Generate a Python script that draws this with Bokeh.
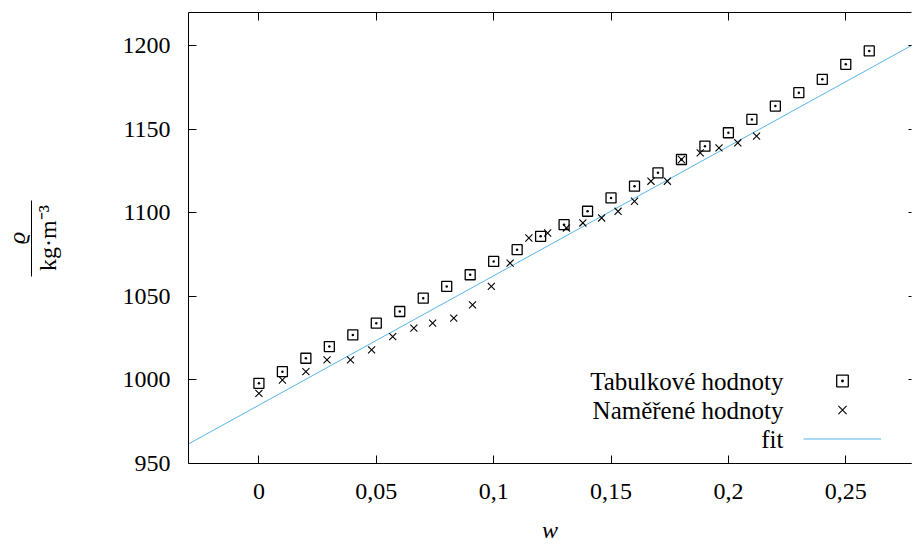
from bokeh.plotting import figure
from bokeh.models import (LinearAxis, FixedTicker, Label, Legend, LegendItem,
                          Range1d)
from bokeh.core.properties import value
from bokeh.embed import file_html
from bokeh.resources import INLINE

# ---------------- data ----------------
w_tab = [0.00, 0.01, 0.02, 0.03, 0.04, 0.05, 0.06, 0.07, 0.08, 0.09,
         0.10, 0.11, 0.12, 0.13, 0.14, 0.15, 0.16, 0.17, 0.18, 0.19,
         0.20, 0.21, 0.22, 0.23, 0.24, 0.25, 0.26]
rho_tab = [998, 1005, 1013, 1020, 1027, 1034, 1041, 1049, 1056, 1063,
           1071, 1078, 1086, 1093, 1101, 1109, 1116, 1124, 1132, 1140,
           1148, 1156, 1164, 1172, 1180, 1189, 1197]

w_mer = [0.000, 0.010, 0.020, 0.029, 0.039, 0.048, 0.057, 0.066, 0.074,
         0.083, 0.091, 0.099, 0.107, 0.115, 0.123, 0.131, 0.138, 0.146,
         0.153, 0.160, 0.167, 0.174, 0.180, 0.188, 0.196, 0.204, 0.212]
rho_mer = [992, 1000, 1005, 1012, 1012, 1018, 1026, 1031, 1034,
           1037, 1045, 1056, 1070, 1085, 1088, 1091, 1094, 1097,
           1101, 1107, 1119, 1119, 1132, 1136, 1139, 1142, 1146]

fit_w = [-0.03, 0.28]
fit_rho = [961.7, 1201.8]

x_ticks = [0, 0.05, 0.1, 0.15, 0.2, 0.25]
x_tick_labels = ["0", "0,05", "0,1", "0,15", "0,2", "0,25"]
y_ticks = [950, 1000, 1050, 1100, 1150, 1200]
y_tick_labels = ["950", "1000", "1050", "1100", "1150", "1200"]

legend_labels = ["Tabulkové hodnoty", "Naměřené hodnoty", "fit"]
x_label = "w"
y_label_num = "ϱ"
y_label_den = "kg·m⁻³"

FONT = "Liberation Serif"
FS = "24px"
FS_LEG = "25px"

# ---------------- figure ----------------
p = figure(width=912, height=545,
           x_range=Range1d(-0.03, 0.278), y_range=Range1d(950, 1220),
           output_backend="svg", toolbar_location=None,
           min_border_left=188, min_border_right=1,
           min_border_top=12, min_border_bottom=81)
p.xgrid.visible = False
p.ygrid.visible = False
p.outline_line_color = None
p.background_fill_color = "white"
p.border_fill_color = "white"

def style_axis(ax, labels=True, tick_in=8, line=True):
    ax.major_tick_in = tick_in
    ax.major_tick_out = 0
    ax.minor_tick_in = 0
    ax.minor_tick_out = 0
    ax.major_tick_line_color = "black"
    ax.major_tick_line_width = 1
    ax.axis_line_color = "black" if line else None
    ax.axis_line_width = 1
    if labels:
        ax.major_label_text_font = FONT
        ax.major_label_text_font_size = FS
        ax.major_label_text_color = "black"
    else:
        ax.major_label_text_font_size = "0px"
        ax.major_label_standoff = 0
    ax.axis_label_text_font = FONT
    ax.axis_label_text_font_size = FS
    ax.axis_label_text_color = "black"

bx = p.xaxis[0]
bx.ticker = FixedTicker(ticks=x_ticks)
bx.major_label_overrides = dict(zip(x_ticks, x_tick_labels))
style_axis(bx)
bx.major_label_standoff = 20
bx.axis_label = x_label
bx.axis_label_text_font_style = "italic"
bx.axis_label_standoff = 15

ly = p.yaxis[0]
ly.ticker = FixedTicker(ticks=y_ticks)
ly.major_label_overrides = dict(zip(y_ticks, y_tick_labels))
style_axis(ly)
ly.major_label_standoff = 18
ly.axis_label = y_label_den
ly.axis_label_text_font_style = "normal"
ly.axis_label_standoff = 59

# fraction bar + numerator of the y label
frac = LinearAxis(ticker=FixedTicker(ticks=[]), bounds=(1061.7, 1107.7))
style_axis(frac, labels=False, tick_in=0)
frac.axis_label = y_label_num
frac.axis_label_text_font_style = "italic"
frac.axis_label_standoff = 2
p.add_layout(frac, "left")

# mirrored ticks (no labels)
top = LinearAxis(ticker=FixedTicker(ticks=x_ticks))
top.major_label_overrides = {t: "" for t in x_ticks}
style_axis(top, labels=False)
p.add_layout(top, "above")

right = LinearAxis(ticker=FixedTicker(ticks=y_ticks))
right.major_label_overrides = {t: "" for t in y_ticks}
style_axis(right, labels=False, tick_in=3, line=False)
p.add_layout(right, "right")

# ---------------- data glyphs ----------------
fit_r = p.line(fit_w, fit_rho, line_color="#56b4e9", line_width=1)
sq_r = p.scatter(w_tab, rho_tab, marker="square_dot", size=10,
                 fill_color=None, line_color="black", line_width=1.3)
x_r = p.scatter(w_mer, rho_mer, marker="x", size=10,
                line_color="black", line_width=1.1)

# ---------------- legend (glyph samples on the right, texts right-aligned) ----------------
legend = Legend(items=[LegendItem(label=value(""), renderers=[sq_r]),
                       LegendItem(label=value(""), renderers=[x_r]),
                       LegendItem(label=value(""), renderers=[fit_r])],
                location=(615, 10), orientation="vertical",
                glyph_width=78, glyph_height=29, label_width=0, label_height=0,
                label_standoff=0, padding=0, margin=0, spacing=0,
                label_text_font_size="0px",
                border_line_color=None, background_fill_alpha=0)
p.add_layout(legend)

for txt, yy in zip(legend_labels, [82.5, 53, 24]):
    p.add_layout(Label(x=595, y=yy, x_units="screen", y_units="screen",
                       text=txt, text_align="right", text_baseline="middle",
                       text_font=FONT, text_font_size=FS_LEG, text_color="black"))

open("out.html", "w").write(file_html(p, INLINE))
